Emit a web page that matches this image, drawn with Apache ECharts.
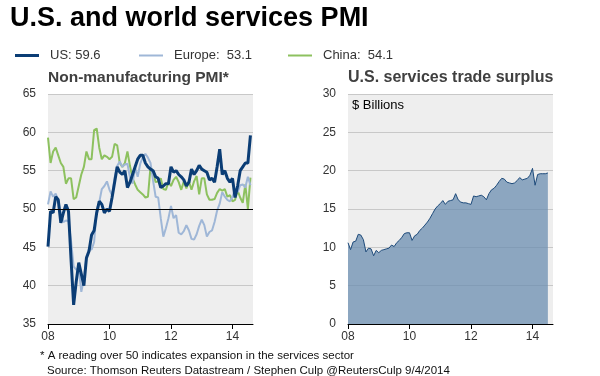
<!DOCTYPE html>
<html><head><meta charset="utf-8">
<script src="https://cdn.jsdelivr.net/npm/echarts@6/dist/echarts.min.js"></script>
<style>html,body{margin:0;padding:0;background:#fff}#c{width:600px;height:376px}</style>
</head><body><div id="c"></div>
<script>
// Monthly data, Jan 2008 onward
const startYear = 2008;
const usPMI = [45.1,49.7,49.5,51.6,51.2,48.2,49.5,50.6,49.7,43.4,37.5,40.5,
  43.0,41.5,40.0,43.6,44.5,46.6,47.2,49.5,51.0,50.6,49.5,50.0,
  49.7,51.5,53.5,55.5,54.8,54.5,55.0,52.8,53.5,54.5,55.5,56.5,
  57.0,57.0,56.0,55.5,55.2,55.0,54.2,54.0,52.8,53.0,53.3,53.3,
  55.5,54.8,55.0,54.5,54.2,53.8,53.0,53.5,55.2,54.5,55.0,55.7,
  55.2,55.0,54.8,53.8,54.0,53.5,55.5,57.8,54.5,55.0,54.0,53.5,
  54.0,51.5,53.0,55.0,55.5,56.0,56.0,59.6];
const europePMI = [50.6,52.3,51.6,52.0,51.1,49.5,48.3,48.5,48.4,45.8,42.5,42.1,
  42.2,39.2,40.9,43.8,44.8,44.7,45.7,49.9,50.9,52.6,53.0,53.6,
  52.5,51.8,54.1,55.6,56.2,55.5,55.8,55.9,54.1,53.3,55.4,54.2,
  55.9,56.8,57.2,56.7,56.0,53.7,51.6,51.5,48.8,46.4,47.5,48.8,
  50.4,48.8,49.2,46.9,46.7,47.1,47.9,47.2,46.1,46.0,46.7,47.8,
  48.6,47.9,46.4,47.0,47.2,48.3,49.8,50.7,52.2,51.6,51.2,51.0,
  51.6,52.6,52.2,53.1,53.2,52.8,54.2,53.1];
const chinaPMI = [59.3,56.0,57.5,58.0,57.0,56.0,55.5,53.3,54.0,54.0,51.3,51.5,
  53.0,54.5,55.5,57.5,56.5,56.5,60.3,60.5,58.0,56.5,57.0,56.8,
  56.5,56.8,58.5,58.3,56.0,55.5,56.0,57.5,55.6,54.0,53.2,52.5,
  52.2,51.9,51.5,51.6,55.5,54.8,53.5,53.6,54.0,52.6,52.5,53.5,
  53.0,53.8,54.2,53.5,52.5,53.6,52.7,53.6,52.5,53.6,54.3,51.9,
  54.0,54.0,51.9,51.2,51.2,51.3,52.1,52.6,52.4,52.6,51.6,51.8,
  51.0,51.2,52.4,51.5,50.8,53.2,50.0,54.1];
const tradeSurplus = [10.6,9.7,10.7,10.8,11.7,11.6,11.0,9.4,9.9,9.8,8.9,9.6,
  9.3,9.6,9.7,9.8,9.9,10.3,10.1,10.6,10.9,11.3,11.8,11.9,
  11.9,10.9,11.5,11.7,12.2,12.5,12.9,13.3,13.8,14.4,15.0,15.4,
  15.7,16.1,15.6,16.0,16.1,16.2,17.0,16.2,15.9,15.8,15.8,15.7,
  15.6,16.7,16.6,16.7,16.8,16.6,16.2,17.0,17.5,17.7,18.1,18.6,
  19.0,18.9,18.5,18.4,18.3,18.4,18.7,19.1,18.8,18.9,19.0,19.4,
  20.3,18.1,19.5,19.6,19.6,19.6,19.7];
const legendLabels = {US: 'US: 59.6', Europe: 'Europe:  53.1', China: 'China:  54.1'};
const titleText = 'U.S. and world services PMI';
const leftTitle = 'Non-manufacturing PMI*';
const rightTitle = 'U.S. services trade surplus';
const unitText = '$ Billions';
const footnote1 = '* A reading over 50 indicates expansion in the services sector';
const footnote2 = 'Source: Thomson Reuters Datastream / Stephen Culp @ReutersCulp 9/4/2014';

const toPairs = arr => arr.map((v, i) => [startYear + i / 12, v]);
const FONT = 'Arial, "Liberation Sans", sans-serif';
const xMax = startYear + 80 / 12;

function xAxisCfg(gi) {
  return {
    type: 'value', gridIndex: gi, min: startYear, max: xMax, interval: 2,
    axisLine: {show: true, lineStyle: {color: '#000', width: 1}},
    axisTick: {show: true, length: 5, lineStyle: {color: '#000'}},
    axisLabel: {fontSize: 12, color: '#333', fontFamily: FONT, margin: 7, showMaxLabel: false,
      formatter: v => String(Math.round(v) % 100).padStart(2, '0')},
    splitLine: {show: false}
  };
}
function yAxisCfg(gi, min, max) {
  return {
    type: 'value', gridIndex: gi, min: min, max: max, interval: 5,
    axisLine: {show: false}, axisTick: {show: false},
    axisLabel: {fontSize: 12, color: '#333', fontFamily: FONT, margin: 12},
    splitLine: {show: true, lineStyle: {color: '#c8c8c8', width: 1}}
  };
}
function legendCfg(name, left, h) {
  return {
    data: [name], left: left, top: 49, padding: 0, icon: 'rect', itemWidth: 24, itemHeight: h,
    textStyle: {fontSize: 13, color: '#333', fontFamily: FONT, padding: [0, 0, 0, 6]},
    formatter: n => legendLabels[n], selectedMode: false
  };
}

const chart = echarts.init(document.getElementById('c'), null, {renderer: 'canvas'});
chart.setOption({
  animation: false,
  backgroundColor: '#fff',
  grid: [
    {left: 48, top: 94, width: 205, height: 230, show: true, backgroundColor: '#eeeeee', borderWidth: 0},
    {left: 348, top: 94, width: 205, height: 230, show: true, backgroundColor: '#eeeeee', borderWidth: 0}
  ],
  xAxis: [xAxisCfg(0), xAxisCfg(1)],
  yAxis: [yAxisCfg(0, 35, 65), yAxisCfg(1, 0, 30)],
  legend: [legendCfg('US', 15, 3), legendCfg('Europe', 139, 2), legendCfg('China', 288, 2)],
  series: [
    {name: 'China', type: 'line', xAxisIndex: 0, yAxisIndex: 0, data: toPairs(chinaPMI),
      showSymbol: false, lineStyle: {color: '#8dc15f', width: 2}, itemStyle: {color: '#8dc15f'},
      markLine: {silent: true, symbol: 'none', label: {show: false},
        lineStyle: {color: '#000', width: 1, type: 'solid'}, data: [{yAxis: 50}]}},
    {name: 'Europe', type: 'line', xAxisIndex: 0, yAxisIndex: 0, data: toPairs(europePMI),
      showSymbol: false, lineStyle: {color: '#9fb7d7', width: 2}, itemStyle: {color: '#9fb7d7'}},
    {name: 'US', type: 'line', xAxisIndex: 0, yAxisIndex: 0, data: toPairs(usPMI),
      showSymbol: false, lineStyle: {color: '#0b3d75', width: 3}, itemStyle: {color: '#0b3d75'}},
    {name: 'Surplus', type: 'line', xAxisIndex: 1, yAxisIndex: 1, data: toPairs(tradeSurplus),
      showSymbol: false, lineStyle: {color: '#1d4a7a', width: 1},
      areaStyle: {color: 'rgba(102,138,175,0.72)', opacity: 1}}
  ],
  graphic: [
    {type: 'text', left: 10, top: 5, style: {text: titleText, font: 'bold 27px ' + FONT, fill: '#000'}},
    {type: 'text', left: 48, top: 70, style: {text: leftTitle, font: 'bold 15.5px ' + FONT, fill: '#404040'}},
    {type: 'text', left: 348, top: 70, style: {text: rightTitle, font: 'bold 16px ' + FONT, fill: '#404040'}},
    {type: 'text', left: 352, top: 99, style: {text: unitText, font: '13px ' + FONT, fill: '#000'}},
    {type: 'text', left: 40, top: 350, style: {text: footnote1, font: '11.5px ' + FONT, fill: '#111'}},
    {type: 'text', left: 47, top: 365, style: {text: footnote2, font: '11.5px ' + FONT, fill: '#111'}}
  ]
});
</script></body></html>
